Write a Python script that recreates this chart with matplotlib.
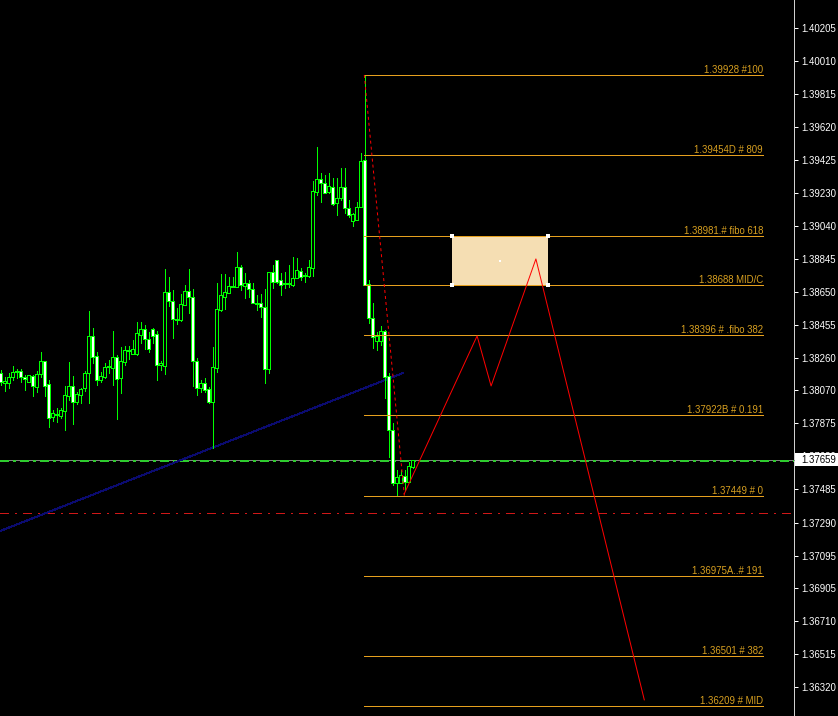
import matplotlib
matplotlib.use("Agg")
import matplotlib.pyplot as plt
from matplotlib.patches import Rectangle
from matplotlib import transforms
import numpy as np

# ---------------------------------------------------------------- data
opens = [1.38172, 1.38113, 1.38113, 1.38148, 1.38178, 1.38183, 1.38148, 1.38119, 1.38154, 1.38089,
         1.38166, 1.38242, 1.38107, 1.37912, 1.37930, 1.37918, 1.37948, 1.38036, 1.38095, 1.38001,
         1.38042, 1.38083, 1.38172, 1.38390, 1.38272, 1.38130, 1.38148, 1.38207, 1.38201, 1.38266,
         1.38142, 1.38236, 1.38307, 1.38284, 1.38284, 1.38396, 1.38431, 1.38372, 1.38431, 1.38401,
         1.38219, 1.38213, 1.38649, 1.38596, 1.38490, 1.38484, 1.38572, 1.38655, 1.38620, 1.38242,
         1.38083, 1.38113, 1.38077, 1.38001, 1.38201, 1.38543, 1.38620, 1.38643, 1.38679, 1.38679,
         1.38796, 1.38684, 1.38702, 1.38667, 1.38584, 1.38584, 1.38561, 1.38195, 1.38767, 1.38838,
         1.38720, 1.38702, 1.38696, 1.38690, 1.38732, 1.38773, 1.38749, 1.38743, 1.38791, 1.39238,
         1.39315, 1.39291, 1.39238, 1.39268, 1.39174, 1.39203, 1.39268, 1.39144, 1.39068, 1.39073,
         1.39150, 1.39427, 1.38696, 1.38496, 1.38360, 1.38360, 1.38419, 1.38154, 1.37836, 1.37523,
         1.37523, 1.37565, 1.37529, 1.37618]
highs = [1.38189, 1.38148, 1.38172, 1.38213, 1.38195, 1.38195, 1.38160, 1.38160, 1.38160, 1.38183,
         1.38295, 1.38242, 1.38130, 1.37954, 1.37965, 1.37965, 1.38095, 1.38236, 1.38154, 1.38060,
         1.38083, 1.38183, 1.38537, 1.38437, 1.38295, 1.38178, 1.38231, 1.38248, 1.38419, 1.38278,
         1.38325, 1.38331, 1.38331, 1.38366, 1.38472, 1.38472, 1.38455, 1.38413, 1.38437, 1.38419,
         1.38242, 1.38785, 1.38737, 1.38661, 1.38555, 1.38637, 1.38690, 1.38785, 1.38667, 1.38260,
         1.38130, 1.38142, 1.38089, 1.38325, 1.38702, 1.38755, 1.38755, 1.38737, 1.38737, 1.38885,
         1.38808, 1.38761, 1.38720, 1.38702, 1.38631, 1.38637, 1.38667, 1.38767, 1.38808, 1.38838,
         1.38761, 1.38767, 1.38808, 1.38855, 1.38849, 1.38791, 1.38761, 1.38838, 1.39303, 1.39504,
         1.39350, 1.39339, 1.39350, 1.39321, 1.39321, 1.39380, 1.39380, 1.39191, 1.39115, 1.39180,
         1.39468, 1.39928, 1.38720, 1.38584, 1.38413, 1.38449, 1.38425, 1.38172, 1.37877, 1.37600,
         1.37600, 1.37600, 1.37647, 1.37659]
lows = [1.38101, 1.38066, 1.38083, 1.38130, 1.38142, 1.38119, 1.38071, 1.38119, 1.38036, 1.38060,
        1.38148, 1.38036, 1.37853, 1.37889, 1.37883, 1.37906, 1.37836, 1.38013, 1.37871, 1.37989,
        1.37995, 1.38066, 1.37995, 1.38231, 1.38101, 1.38119, 1.38142, 1.38172, 1.38101, 1.37901,
        1.38054, 1.38219, 1.38254, 1.38284, 1.38278, 1.38348, 1.38313, 1.38295, 1.38348, 1.38130,
        1.38189, 1.38166, 1.38567, 1.38378, 1.38460, 1.38478, 1.38572, 1.38525, 1.38095, 1.38042,
        1.38060, 1.38060, 1.37995, 1.37730, 1.38178, 1.38537, 1.38549, 1.38643, 1.38679, 1.38679,
        1.38661, 1.38614, 1.38620, 1.38584, 1.38543, 1.38502, 1.38113, 1.38172, 1.38673, 1.38702,
        1.38631, 1.38673, 1.38679, 1.38684, 1.38732, 1.38720, 1.38708, 1.38737, 1.38743, 1.39221,
        1.39180, 1.39232, 1.39232, 1.39162, 1.39103, 1.39191, 1.39115, 1.39091, 1.39038, 1.39073,
        1.39150, 1.38690, 1.38466, 1.38319, 1.38307, 1.38337, 1.38024, 1.37677, 1.37512, 1.37449,
        1.37523, 1.37482, 1.37529, 1.37612]
closes = [1.38119, 1.38125, 1.38148, 1.38178, 1.38183, 1.38148, 1.38136, 1.38160, 1.38095, 1.38166,
          1.38242, 1.38095, 1.37906, 1.37936, 1.37924, 1.37954, 1.38042, 1.38095, 1.38001, 1.38048,
          1.38077, 1.38172, 1.38390, 1.38266, 1.38130, 1.38154, 1.38207, 1.38213, 1.38266, 1.38136,
          1.38242, 1.38307, 1.38301, 1.38313, 1.38407, 1.38431, 1.38372, 1.38313, 1.38390, 1.38219,
          1.38231, 1.38649, 1.38596, 1.38490, 1.38484, 1.38578, 1.38655, 1.38620, 1.38242, 1.38083,
          1.38113, 1.38071, 1.38001, 1.38207, 1.38549, 1.38631, 1.38649, 1.38684, 1.38684, 1.38796,
          1.38690, 1.38702, 1.38667, 1.38584, 1.38578, 1.38561, 1.38195, 1.38767, 1.38708, 1.38708,
          1.38690, 1.38696, 1.38702, 1.38732, 1.38779, 1.38737, 1.38743, 1.38796, 1.39244, 1.39315,
          1.39291, 1.39232, 1.39274, 1.39168, 1.39203, 1.39268, 1.39144, 1.39103, 1.39109, 1.39150,
          1.39421, 1.38690, 1.38496, 1.38384, 1.38390, 1.38419, 1.38148, 1.37836, 1.37523, 1.37559,
          1.37570, 1.37529, 1.37624, 1.37659]

price_ticks = [1.40205, 1.40010, 1.39815, 1.39620, 1.39425, 1.39230, 1.39040, 1.38845, 1.38650,
               1.38455, 1.38260, 1.38070, 1.37875, 1.37680, 1.37485, 1.37290, 1.37095, 1.36905,
               1.36710, 1.36515, 1.36320]
last_price = 1.37659

fib_prices = [1.39928, 1.39454, 1.38981, 1.38688, 1.38396, 1.37922, 1.37449, 1.36975, 1.36501, 1.36209]
fib_labels = ["1.39928 #100", "1.39454D # 809", "1.38981.# fibo 618", "1.38688 MID/C",
              "1.38396 # .fibo 382", "1.37922B # 0.191", "1.37449 # 0", "1.36975A..# 191",
              "1.36501 # 382", "1.36209 # MID"]
fib_start, fib_end = 90.8, 190.6

# swing used for the retracement (high bar -> low bar)
swing_x = [90.9, 100.9]
swing_y = [1.39928, 1.37449]

# projected path
path_x = [100.9, 119.1, 122.6, 133.8, 160.9]
path_y = [1.37460, 1.38390, 1.38095, 1.38844, 1.36245]

# supply zone
zone_x = [112.8, 136.8]
zone_y = [1.38688, 1.38981]

# trend line
trend_x = [-0.175, 100.6]
trend_y = [1.37240, 1.38172]

level_green = 1.37650
level_red = 1.37347

# ---------------------------------------------------------------- style
W, H, DPI = 838, 716, 100
PX = 72.0 / DPI            # one pixel in points
GREEN = "#00FF00"
FIB = "#E6A01E"
FIB_TXT = "#D8A020"
FONT = "Liberation Sans"

fig = plt.figure(figsize=(W / DPI, H / DPI), dpi=DPI, facecolor="black")
ax = fig.add_axes([0, 0, 794 / W, 1])
ax.set_facecolor("black")
ax.set_xlim(-0.175, 198.325)
ax.set_ylim(1.36150, 1.40370)

# ---------------------------------------------------------------- candles
idx = np.arange(len(opens))
o = np.array(opens)
c = np.array(closes)
ax.vlines(idx, lows, highs, colors=GREEN, linewidth=PX, antialiased=False, zorder=4)
bottom = np.minimum(o, c)
height = np.abs(c - o)
faces = ["white" if cc < oo else "black" for oo, cc in zip(o, c)]
ax.bar(idx, height, bottom=bottom, width=0.62, color=faces, edgecolor=GREEN,
       linewidth=PX, antialiased=False, zorder=5)

# ---------------------------------------------------------------- horizontal levels
ax.axhline(last_price, color="#808080", linewidth=PX, zorder=3, antialiased=False)
ax.axhline(level_green, color="#2ECC2E", linewidth=1.6 * PX, zorder=3,
           linestyle=(0, (9 / 1.6, 5 / 1.6, 3 / 1.6, 5 / 1.6)), antialiased=False)
ax.axhline(level_red, color="#D01818", linewidth=PX, zorder=3,
           linestyle=(0, (9, 6, 2, 6)), antialiased=False)

# trend line
ax.plot(trend_x, trend_y, color="#0B0B70", linewidth=PX, zorder=3, antialiased=False)

# supply zone with handles
ax.add_patch(Rectangle((zone_x[0], zone_y[0]), zone_x[1] - zone_x[0], zone_y[1] - zone_y[0],
                       facecolor="#F5DEB3", edgecolor="none", zorder=2))
ax.scatter([zone_x[0], zone_x[1], zone_x[0], zone_x[1]],
           [zone_y[0], zone_y[0], zone_y[1], zone_y[1]],
           marker="s", s=(4 * PX) ** 2, color="white", linewidths=0, zorder=7)
ax.scatter([(zone_x[0] + zone_x[1]) / 2], [(zone_y[0] + zone_y[1]) / 2],
           marker="s", s=(2.5 * PX) ** 2, color="white", linewidths=0, zorder=7)

# fibonacci levels
ax.hlines(fib_prices, fib_start, fib_end, colors=FIB, linewidth=PX, zorder=6, antialiased=False)
lift = transforms.ScaledTranslation(0, 2.0 / DPI, fig.dpi_scale_trans)
for p, lab in zip(fib_prices, fib_labels):
    ax.text(fib_end, p, lab, ha="right", va="baseline", color=FIB_TXT, fontsize=6.9,
            family=FONT, transform=ax.transData + lift, zorder=8)

# swing line and projected path
ax.plot(swing_x, swing_y, color="red", linewidth=PX, linestyle=(0, (3, 3)), zorder=6)
ax.plot(path_x, path_y, color="red", linewidth=PX, zorder=6)

# ---------------------------------------------------------------- price axis
for s in ["left", "top", "bottom"]:
    ax.spines[s].set_visible(False)
ax.spines["right"].set_color("#D0D0D0")
ax.spines["right"].set_linewidth(PX)
ax.set_xticks([])
ax.yaxis.tick_right()
ax.set_yticks(price_ticks)
ax.set_yticklabels([f"{t:.5f}" for t in price_ticks])
ax.tick_params(axis="y", colors="white", labelsize=6.9, length=4 * PX, width=PX, pad=3 * PX)
for lab in ax.get_yticklabels():
    lab.set_family(FONT)

# last-price marker
bt = transforms.blended_transform_factory(fig.transFigure, ax.transData)
box_h = 13 * 5.8938e-5
fig.patches.append(Rectangle((795 / W, last_price - box_h / 2), 43 / W, box_h,
                             transform=bt, facecolor="white", edgecolor="none", zorder=10))
fig.text(801 / W, last_price, f"{last_price:.5f}", transform=bt, ha="left", va="center",
         color="black", fontsize=6.9, family=FONT, zorder=11)
fig.add_artist(plt.Line2D([794 / W, 798 / W], [last_price, last_price], transform=bt,
                          color="#808080", linewidth=PX))

fig.savefig("out.png", dpi=DPI, facecolor="black")
